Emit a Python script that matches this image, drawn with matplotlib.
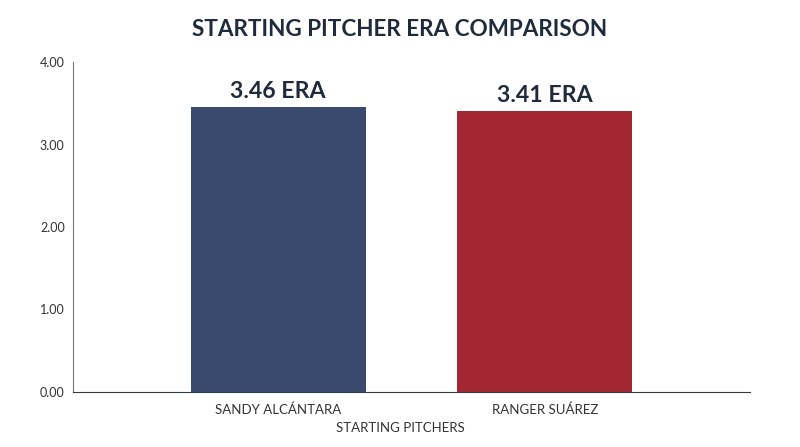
import matplotlib
matplotlib.use("Agg")
import matplotlib.pyplot as plt

pitchers = ["SANDY ALCÁNTARA", "RANGER SUÁREZ"]
era = [3.46, 3.41]
bar_labels = ["3.46 ERA", "3.41 ERA"]
yticks = [0.0, 1.0, 2.0, 3.0, 4.0]
colors = ["#3a4a6e", "#a32633"]

plt.rcParams['font.family'] = ['Lato', 'DejaVu Sans']

fig = plt.figure(figsize=(8, 4.47), dpi=100)
ax = fig.add_axes([73/800, 1-392/447, (750-73)/800, (392-62)/447])

x = list(range(len(pitchers)))
bars = ax.bar(x, era, width=0.655, color=colors)
for b, lab in zip(bars, bar_labels):
    ax.text(b.get_x() + b.get_width()/2, b.get_height() + 0.06, lab,
            ha='center', va='bottom', fontsize=16.7, fontweight='bold', color='#1f2a3c')

ax.set_xlim(-0.77, 1.77)
ax.set_ylim(0, 4)
ax.set_yticks(yticks)
ax.set_yticklabels([f"{v:.2f}" for v in yticks])
ax.set_xticks(x)
ax.set_xticklabels(pitchers)
ax.tick_params(axis='both', length=0, labelsize=9, colors='#333333', pad=6)
ax.tick_params(axis='x', labelsize=9.5, pad=8)
for s in ['top', 'right']:
    ax.spines[s].set_visible(False)
ax.spines['left'].set_color('#777777')
ax.spines['bottom'].set_color('#333a48')
fig.text(0.5, 1-428/447, "STARTING PITCHERS", ha='center', va='center',
         fontsize=9.5, color='#333333')
fig.text(0.5, 1-30/447, "STARTING PITCHER ERA COMPARISON", ha='center', va='center',
         fontsize=16.2, fontweight='bold', color='#1f2a3c')

fig.savefig("out.png", dpi=100, facecolor='white')
